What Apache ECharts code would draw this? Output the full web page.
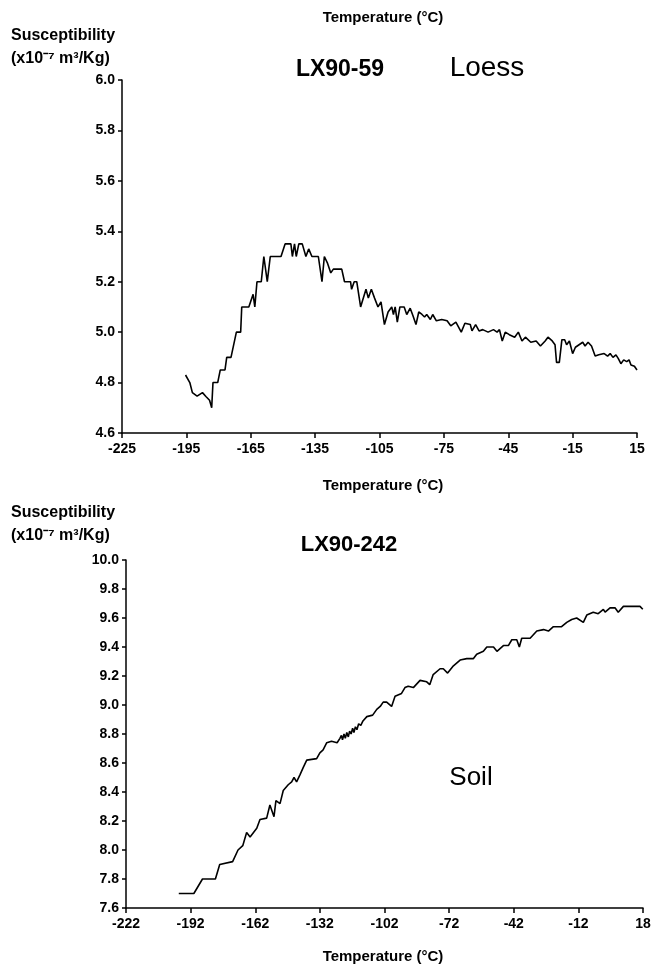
<!DOCTYPE html>
<html>
<head>
<meta charset="utf-8">
<script src="https://cdn.jsdelivr.net/npm/echarts@6/dist/echarts.min.js"></script>
<style>
html,body{margin:0;padding:0;background:#fff;}
#chart{width:661px;height:971px;}
</style>
</head>
<body>
<div id="chart"></div>
<script>
// ---- Data: LX90-59 (Loess) ----
var tempsLoess = [-195.4,-193.4,-192.2,-190,-187.5,-185.9,-184.2,-183.2,-182.6,-180.4,-179.2,-177,-176.2,-174.2,-171.7,-169.7,-169.2,-165.9,-163.9,-163.1,-162.1,-160.1,-158.9,-157.3,-155.9,-150.9,-149,-146.3,-145.6,-144.6,-143.8,-142.6,-141,-139.3,-138,-136.5,-133.5,-131.8,-130.7,-129.3,-127.7,-126.5,-122.6,-121.3,-118.5,-118,-116.8,-115.6,-113.8,-111.3,-110.2,-108.8,-107.3,-105.7,-104.3,-102.7,-101,-99.3,-98.5,-97.7,-96.7,-95.5,-93.5,-92.3,-90.7,-89.4,-88,-86.7,-85.2,-84,-83,-81.3,-80.2,-78.5,-76,-73.5,-71.8,-69.4,-66.9,-65.2,-62.7,-61.9,-60.2,-58.6,-56.9,-54.4,-51.9,-50.2,-49.1,-47.8,-46.4,-44.5,-42,-40.3,-38.6,-37,-34.5,-32,-30,-27.8,-26.5,-24.5,-23.2,-22.5,-21.2,-20,-18.7,-17.8,-16.5,-15.7,-15,-13.7,-12,-10.3,-9.2,-7.8,-6.2,-4.5,-2.8,-0.3,1.3,2.5,3.8,5.2,6.3,7.5,8.8,10.2,11.3,12.2,13.8,15];
var suscLoess = [4.83,4.80,4.76,4.746,4.76,4.745,4.73,4.70,4.80,4.80,4.85,4.85,4.90,4.90,5.00,5.00,5.10,5.10,5.15,5.10,5.20,5.20,5.30,5.20,5.30,5.30,5.35,5.35,5.30,5.35,5.30,5.35,5.35,5.30,5.33,5.30,5.30,5.20,5.30,5.275,5.235,5.25,5.25,5.20,5.20,5.17,5.20,5.20,5.10,5.17,5.135,5.17,5.135,5.10,5.12,5.03,5.08,5.10,5.07,5.10,5.04,5.10,5.10,5.07,5.095,5.065,5.03,5.08,5.07,5.06,5.07,5.05,5.07,5.045,5.05,5.045,5.025,5.04,5.00,5.035,5.03,5.005,5.03,5.005,5.01,5.00,5.01,5.00,5.01,4.965,5.00,4.99,4.98,5.00,4.965,4.98,4.96,4.965,4.945,4.965,4.98,4.965,4.95,4.88,4.88,4.97,4.97,4.95,4.965,4.97,4.915,4.94,4.95,4.96,4.945,4.96,4.945,4.905,4.91,4.915,4.905,4.915,4.90,4.91,4.895,4.875,4.89,4.883,4.89,4.87,4.865,4.85];

// ---- Data: LX90-242 (Soil) ----
var tempsSoil = [-197.5,-190.5,-188.5,-186.5,-180.5,-178.5,-172.5,-170,-167.8,-166,-164.4,-161.3,-159.8,-156.7,-155.2,-153.3,-152.4,-150.5,-149,-146.7,-145.1,-144,-142.8,-141.2,-139.7,-138.1,-133.5,-132,-130.5,-128.8,-126.6,-124,-122.7,-122,-121.5,-120.8,-120.2,-119.5,-118.8,-118.2,-117.5,-116.8,-116.2,-115.5,-114.8,-114,-113,-112,-110.2,-107.5,-105.6,-104,-102.6,-101,-98.7,-97.1,-94.1,-92.5,-91,-88.6,-85.5,-82.4,-81,-79.4,-76.2,-74.7,-72.7,-70,-66.9,-63.8,-60.7,-59.2,-56.1,-54.5,-51.4,-49.8,-46.8,-44.5,-42.9,-40.6,-39.4,-38.3,-34.4,-31.3,-28.2,-25.9,-23.6,-19.8,-17.4,-15.1,-12.8,-9.7,-8.1,-5.1,-2.8,-0.4,0.4,2.7,5,6.5,8.9,12.8,16.6,17.9];
var suscSoil = [7.70,7.70,7.75,7.80,7.80,7.90,7.92,8.00,8.03,8.12,8.09,8.15,8.21,8.22,8.31,8.23,8.34,8.32,8.41,8.45,8.47,8.50,8.47,8.52,8.57,8.62,8.63,8.67,8.69,8.74,8.75,8.74,8.77,8.79,8.76,8.80,8.77,8.81,8.78,8.82,8.80,8.84,8.81,8.85,8.83,8.87,8.86,8.89,8.92,8.93,8.97,8.99,9.02,9.02,8.99,9.06,9.08,9.12,9.13,9.12,9.17,9.16,9.14,9.21,9.25,9.25,9.22,9.27,9.31,9.32,9.32,9.35,9.37,9.40,9.40,9.37,9.41,9.41,9.45,9.45,9.40,9.46,9.46,9.51,9.52,9.51,9.54,9.54,9.57,9.59,9.60,9.57,9.62,9.64,9.63,9.66,9.64,9.67,9.67,9.64,9.68,9.68,9.68,9.66];

// ---- Tick labels ----
var loessTempTicks = [-225,-195,-165,-135,-105,-75,-45,-15,15];
var soilTempTicks = [-222,-192,-162,-132,-102,-72,-42,-12,18];

function zip(a, b) { return a.map(function (v, i) { return [v, b[i]]; }); }

var FONT = '"Liberation Sans", Arial, Helvetica, sans-serif';
var chart = echarts.init(document.getElementById('chart'), null, {renderer: 'canvas'});

var tickLbl = {color: '#000', fontFamily: FONT, fontWeight: 'bold', fontSize: 14};

function xAxisCfg(idx, mn, mx, ticks) {
  return {
    type: 'value', gridIndex: idx, min: mn, max: mx,
    axisLine: {show: true, onZero: false, lineStyle: {color: '#000', width: 1.5}},
    axisTick: {show: true, inside: false, length: 5, lineStyle: {color: '#000', width: 1.5}, customValues: ticks},
    axisLabel: Object.assign({margin: 9, customValues: ticks}, tickLbl),
    splitLine: {show: false}
  };
}
function yAxisCfg(idx, mn, mx) {
  return {
    type: 'value', gridIndex: idx, min: mn, max: mx, interval: 0.2,
    axisLine: {show: true, onZero: false, lineStyle: {color: '#000', width: 1.5}},
    axisTick: {show: true, inside: false, length: 4, lineStyle: {color: '#000', width: 1.5}},
    axisLabel: Object.assign({margin: 7, formatter: function (v) { return v.toFixed(1); }}, tickLbl),
    splitLine: {show: false}
  };
}

function txt(x, y, text, size, weight, align) {
  return {
    type: 'text', x: x, y: y,
    style: {text: text, fill: '#000', font: (weight || 'normal') + ' ' + size + 'px ' + FONT,
            textAlign: align || 'left', textVerticalAlign: 'middle'}
  };
}

var option = {
  animation: false,
  backgroundColor: '#fff',
  grid: [
    {left: 122, top: 80, width: 515, height: 353},
    {left: 126, top: 560, width: 517, height: 348}
  ],
  xAxis: [
    xAxisCfg(0, -225, 15, loessTempTicks),
    xAxisCfg(1, -222, 18, soilTempTicks)
  ],
  yAxis: [
    yAxisCfg(0, 4.6, 6.0),
    yAxisCfg(1, 7.6, 10.0)
  ],
  series: [
    {type: 'line', xAxisIndex: 0, yAxisIndex: 0, data: zip(tempsLoess, suscLoess),
     showSymbol: false, lineStyle: {color: '#000', width: 1.6}},
    {type: 'line', xAxisIndex: 1, yAxisIndex: 1, data: zip(tempsSoil, suscSoil),
     showSymbol: false, lineStyle: {color: '#000', width: 1.6}}
  ],
  graphic: [
    txt(383, 18, 'Temperature (°C)', 15, 'bold', 'center'),
    txt(11, 36, 'Susceptibility', 16, 'bold'),
    txt(11, 59, '(x10\u207B\u2077 m\u00B3/Kg)', 16, 'bold'),
    txt(340, 70, 'LX90-59', 23, 'bold', 'center'),
    txt(487, 68, 'Loess', 28, 'normal', 'center'),
    txt(383, 486, 'Temperature (°C)', 15, 'bold', 'center'),
    txt(11, 513, 'Susceptibility', 16, 'bold'),
    txt(11, 536, '(x10\u207B\u2077 m\u00B3/Kg)', 16, 'bold'),
    txt(349, 545, 'LX90-242', 22, 'bold', 'center'),
    txt(471, 778, 'Soil', 26, 'normal', 'center'),
    txt(383, 957, 'Temperature (°C)', 15, 'bold', 'center')
  ]
};
chart.setOption(option);
</script>
</body>
</html>
